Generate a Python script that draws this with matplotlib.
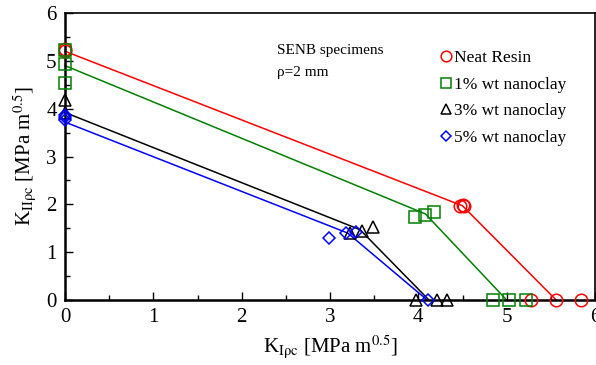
import matplotlib

matplotlib.use("Agg")
from matplotlib import pyplot as plt
from matplotlib.ticker import MultipleLocator

plt.rcParams["font.family"] = ["Liberation Serif", "DejaVu Serif"]
plt.rcParams["mathtext.fontset"] = "stix"

# measured points
neat_x = [0, 0, 4.47, 4.50, 4.52, 5.27, 5.56, 5.84]
neat_y = [5.20, 5.25, 1.96, 1.98, 1.97, 0, 0, 0]
clay1_x = [0, 0, 0, 3.96, 4.08, 4.18, 4.84, 5.03, 5.22]
clay1_y = [5.22, 4.94, 4.54, 1.74, 1.78, 1.84, 0, 0, 0]
clay3_x = [0, 0, 3.23, 3.36, 3.49, 3.97, 4.21, 4.32]
clay3_y = [4.18, 3.90, 1.40, 1.44, 1.52, 0, 0, 0]
clay5_x = [0, 0, 0, 2.99, 3.18, 3.30, 4.11]
clay5_y = [3.76, 3.82, 3.86, 1.30, 1.40, 1.43, 0]

# fitted envelopes
neat_fit_x = [0, 4.50, 5.56]
neat_fit_y = [5.20, 1.97, 0]
clay1_fit_x = [0, 4.08, 5.00]
clay1_fit_y = [4.90, 1.80, 0]
clay3_fit_x = [0, 3.34, 4.12]
clay3_fit_y = [3.92, 1.47, 0]
clay5_fit_x = [0, 3.20, 4.10]
clay5_fit_y = [3.72, 1.40, 0]

series = [
    ("Neat Resin", neat_x, neat_y, neat_fit_x, neat_fit_y, "red", "o"),
    ("1% wt nanoclay", clay1_x, clay1_y, clay1_fit_x, clay1_fit_y, "green", "s"),
    ("3% wt nanoclay", clay3_x, clay3_y, clay3_fit_x, clay3_fit_y, "black", "^"),
    ("5% wt nanoclay", clay5_x, clay5_y, clay5_fit_x, clay5_fit_y, "blue", "D"),
]

fig = plt.figure(figsize=(5.96, 3.65), dpi=100)
ax = fig.add_axes([65 / 596, 65 / 365, 530 / 596, 287 / 365])

for label, xs, ys, fx, fy, color, marker in series:
    ax.plot(fx, fy, color=color, linewidth=1.1, clip_on=False)
    size = 6.5 if marker == "D" else 9
    ax.plot(xs, ys, linestyle="none", marker=marker, markersize=size,
            markerfacecolor="none", markeredgecolor=color, markeredgewidth=1.1,
            label=label, clip_on=False, zorder=3)

ax.set_xlim(0, 6)
ax.set_ylim(0, 6)
ax.xaxis.set_major_locator(MultipleLocator(1))
ax.xaxis.set_minor_locator(MultipleLocator(0.5))
ax.yaxis.set_major_locator(MultipleLocator(1))
ax.yaxis.set_minor_locator(MultipleLocator(0.5))
ax.tick_params(which="both", direction="in", top=False, right=False, labelsize=15)
ax.tick_params(which="major", length=6, width=1, pad=6)
ax.tick_params(which="minor", length=3.5, width=1)
for side in ax.spines.values():
    side.set_linewidth(1.2)
ax.spines["left"].set_linewidth(1.8)
ax.spines["bottom"].set_linewidth(1.8)

ax.set_xlabel(r"K$_{\mathrm{I\rho c}}$ [MPa m$^{0.5}$]", fontsize=15, labelpad=4)
ax.set_ylabel(r"K$_{\mathrm{II\rho c}}$ [MPa m$^{0.5}$]", fontsize=15, labelpad=6)

ax.text(2.4, 5.22, "SENB specimens", fontsize=11, va="center")
ax.text(2.4, 4.75, "ρ=2 mm", fontsize=11, va="center")

leg = ax.legend(loc="upper left", bbox_to_anchor=(0.695, 0.895), frameon=False, fontsize=12.5,
                handlelength=0.6, handletextpad=0.2, labelspacing=0.6, borderaxespad=0.0,
                markerscale=0.85)

fig.savefig("out.png", dpi=100)
